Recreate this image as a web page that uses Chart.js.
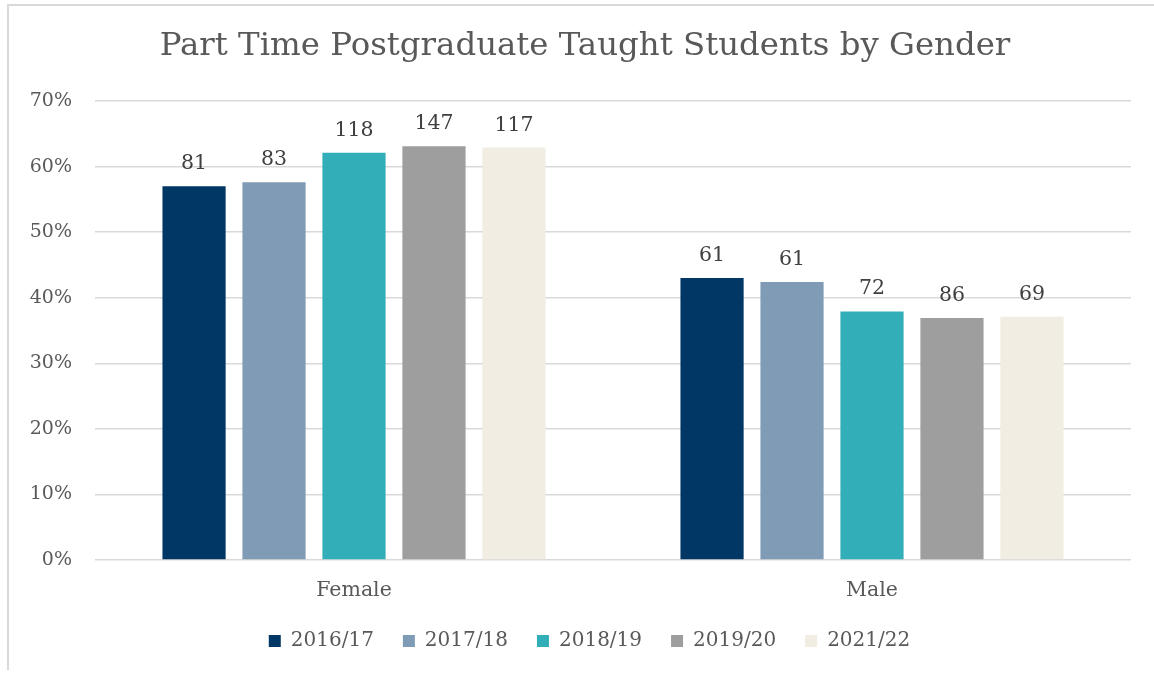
<!DOCTYPE html>
<html>
<head>
<meta charset="utf-8">
<script src="https://cdn.jsdelivr.net/npm/chart.js@4.4.1/dist/chart.umd.min.js"></script>
<style>
  html, body { margin: 0; padding: 0; background: #ffffff; }
  #frame { position: absolute; left: 0; top: 0; width: 1154px; height: 674px; }
  #frame:before { content: ""; position: absolute; left: 7px; top: 4px; width: 1147px; height: 666px; border-left: 2px solid #d9d9d9; border-top: 2px solid #d9d9d9; box-sizing: border-box; pointer-events: none; }
  canvas { position: absolute; left: 0; top: 0; }
</style>
</head>
<body>
<div id="frame"><canvas id="c" width="1154" height="674"></canvas></div>
<script>
const chartTitle = "Part Time Postgraduate Taught Students by Gender";
const categories = ["Female", "Male"];
const seriesLabels = ["2016/17", "2017/18", "2018/19", "2019/20", "2021/22"];
const femaleCounts = [81, 83, 118, 147, 117];
const maleCounts = [61, 61, 72, 86, 69];
const femalePercent = [57.0, 57.6, 62.1, 63.1, 62.9];
const malePercent = [43.0, 42.4, 37.9, 36.9, 37.1];
const yTicks = [0, 10, 20, 30, 40, 50, 60, 70];
const colors = ["#003764", "#7f9bb5", "#31aeb7", "#9e9e9e", "#f1ede3"];

const FONT = "'DejaVu Serif', 'Liberation Serif', serif";

const datasets = seriesLabels.map((lab, i) => ({
  label: lab,
  data: [femalePercent[i], malePercent[i]],
  counts: [femaleCounts[i], maleCounts[i]],
  backgroundColor: colors[i],
  borderWidth: 0,
  categoryPercentage: 0.772,
  barPercentage: 0.79
}));

const labelPlugin = {
  id: 'countLabels',
  afterDatasetsDraw(chart) {
    const ctx = chart.ctx;
    ctx.save();
    ctx.font = "20.5px " + FONT;
    ctx.fillStyle = "#404040";
    ctx.textAlign = "center";
    ctx.textBaseline = "alphabetic";
    chart.data.datasets.forEach((ds, di) => {
      const meta = chart.getDatasetMeta(di);
      meta.data.forEach((bar, j) => {
        ctx.fillText(String(ds.counts[j]), bar.x, bar.y - 17);
      });
    });
    ctx.restore();
  }
};

const titlePlugin = {
  id: 'offsetTitle',
  afterLayout(chart) {
    const lg = chart.legend;
    if (lg) { lg.left += 24; lg.right += 24; }
  },
  afterDraw(chart) {
    const ctx = chart.ctx;
    ctx.save();
    ctx.font = "32.4px " + FONT;
    ctx.fillStyle = "#595959";
    ctx.textAlign = "center";
    ctx.textBaseline = "middle";
    ctx.fillText(chartTitle, 585, 47);
    ctx.restore();
  }
};

new Chart(document.getElementById('c'), {
  type: 'bar',
  data: { labels: categories, datasets },
  options: {
    responsive: false,
    animation: false,
    layout: { padding: { left: 0, right: 23, top: 101, bottom: 13 } },
    plugins: {
      title: { display: false },
      legend: {
        position: 'bottom',
        labels: {
          color: "#595959",
          font: { family: FONT, size: 20 },
          boxWidth: 12, boxHeight: 12,
          padding: 29
        }
      },
      tooltip: { enabled: false }
    },
    scales: {
      x: {
        grid: { display: false },
        border: { display: false },
        afterFit(scale) { scale.height = 42; },
        ticks: { color: "#595959", font: { family: FONT, size: 20.5 }, padding: 10 }
      },
      y: {
        min: 0, max: 70,
        afterBuildTicks(scale) { scale.ticks = yTicks.map(v => ({ value: v })); },
        afterFit(scale) { scale.width = 95; },
        grid: { color: "#d9d9d9", lineWidth: 1.5, drawTicks: false },
        border: { display: false },
        ticks: {
          color: "#595959",
          font: { family: FONT, size: 19 },
          padding: 23,
          callback: v => v + "%"
        }
      }
    }
  },
  plugins: [labelPlugin, titlePlugin]
});
</script>
</body>
</html>
